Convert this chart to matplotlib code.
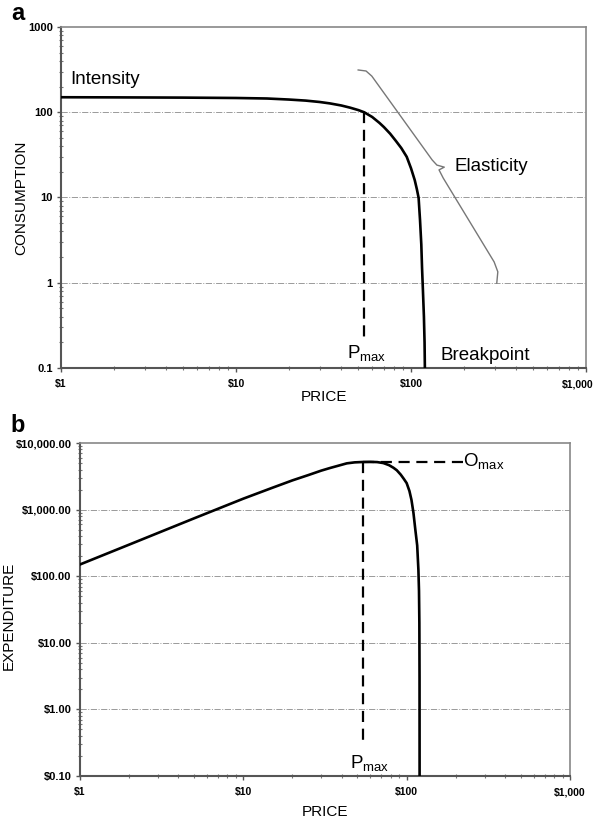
import numpy as np
import matplotlib.pyplot as plt
from matplotlib.ticker import FixedLocator, FixedFormatter, LogLocator, NullFormatter

plt.rcParams['font.family'] = ['Liberation Sans', 'DejaVu Sans']
plt.rcParams['mathtext.fontset'] = 'custom'
plt.rcParams['mathtext.rm'] = 'Liberation Sans'

# demand curve (panel a)
price_a = [1, 2, 5, 10, 15, 20, 25, 30, 34.4, 40, 45, 50, 54, 60, 66, 70, 76,
           82, 88, 94.5, 100, 105, 108, 110.5, 112.6, 114.5, 115.6, 117,
           118.5, 119.5, 120]
consumption = [150, 149.5, 148.5, 147, 145, 141, 137, 132, 127, 120, 113,
               106, 100, 88, 75, 67, 56, 46, 38, 30, 22, 16, 12.5, 9.9, 5.4,
               2.8, 1.5, 0.8, 0.4, 0.2, 0.1]

# expenditure curve (panel b)
price_b = [1, 2, 5, 10, 15, 20, 25, 30, 34, 38, 43, 48, 54, 60, 66, 72, 78,
           83, 87, 92, 96, 100, 104, 107, 110, 113, 116, 118, 119, 119.6,
           119.9, 120]
expenditure = [150, 298, 740, 1460, 2120, 2750, 3300, 3850, 4220, 4550, 4950,
               5120, 5190, 5210, 5170, 5000, 4650, 4250, 3900, 3350, 2900,
               2500, 1900, 1400, 900, 500, 290, 125, 60, 20, 3, 0.1]

pmax_price = 54
pmax_consumption = 100
pmax_low_a = 0.22
omax_value = 5190
omax_end_price = 221
pmax_low_b = 0.29

x_ticks = [1, 10, 100, 1000]
x_labels = ['$1', '$10', '$100', '$1,000']
ya_ticks = [0.1, 1, 10, 100, 1000]
ya_labels = ['0.1', '1', '10', '100', '1000']
yb_ticks = [0.1, 1, 10, 100, 1000, 10000]
yb_labels = ['$0.10', '$1.00', '$10.00', '$100.00', '$1,000.00', '$10,000.00']

fig = plt.figure(figsize=(6, 8.21), dpi=100)
ax_a = fig.add_axes([0.1017, 0.5518, 0.875, 0.4153])
ax_b = fig.add_axes([0.1333, 0.0548, 0.8167, 0.4056])


def style_axes(ax, yticks, ylabels, xlabels):
    ax.set_xscale('log')
    ax.set_yscale('log')
    ax.set_xlim(1, 1000)
    ax.set_ylim(yticks[0], yticks[-1])
    ax.xaxis.set_major_locator(FixedLocator(x_ticks))
    ax.xaxis.set_major_formatter(FixedFormatter(xlabels))
    ax.yaxis.set_major_locator(FixedLocator(yticks))
    ax.yaxis.set_major_formatter(FixedFormatter(ylabels))
    for axis in (ax.xaxis, ax.yaxis):
        axis.set_minor_locator(LogLocator(base=10, subs=np.arange(2, 10)))
        axis.set_minor_formatter(NullFormatter())
    ax.tick_params(which='major', direction='out', length=3, width=1,
                   color='#555555', labelsize=8, pad=3)
    ax.tick_params(axis='x', which='major', labelsize=7.5, pad=5)
    ax.tick_params(which='minor', direction='inout', length=3, width=0.8,
                   color='#777777')
    for lbl in ax.get_xticklabels() + ax.get_yticklabels():
        lbl.set_fontweight('bold')
    for side in ('left', 'bottom'):
        ax.spines[side].set_color('#555555')
        ax.spines[side].set_linewidth(1.5)
    for side in ('top', 'right'):
        ax.spines[side].set_color('#888888')
        ax.spines[side].set_linewidth(1.2)
    for yv in yticks[1:-1]:
        ax.axhline(yv, color='#9a9a9a', lw=0.7, ls='-.', zorder=1)


# panel a (last price label drawn by hand, nudged in from the edge)
style_axes(ax_a, ya_ticks, ya_labels, x_labels[:-1] + [''])
ax_a.annotate(x_labels[-1], xy=(x_ticks[-1], ya_ticks[0]), xytext=(-6, -8),
              textcoords='offset points', ha='center', va='top',
              fontsize=7.5, fontweight='bold', annotation_clip=False)
ax_a.plot(price_a, consumption, color='black', lw=1.9, zorder=3,
          solid_joinstyle='round')
ax_a.plot([pmax_price, pmax_price], [pmax_consumption, pmax_low_a],
          color='black', lw=1.6, ls=(0, (5, 3)), zorder=3)
ax_a.set_ylabel('CONSUMPTION', fontsize=11)
ax_a.yaxis.set_label_coords(-0.062, 0.5)
ax_a.set_xlabel('PRICE', fontsize=11, labelpad=1)

brace_x = [0.566, 0.581, 0.592, 0.707, 0.716, 0.730, 0.720, 0.728, 0.825,
           0.832, 0.830]
brace_y = [0.874, 0.871, 0.856, 0.610, 0.595, 0.589, 0.581, 0.557, 0.311,
           0.282, 0.249]
ax_a.plot(brace_x, brace_y, color='#777777', lw=1.0, transform=ax_a.transAxes,
          solid_joinstyle='round', zorder=2)

ax_a.text(0.017, 0.845, 'Intensity', transform=ax_a.transAxes, fontsize=13.5,
          va='center', ha='left')
ax_a.text(0.749, 0.592, 'Elasticity', transform=ax_a.transAxes, fontsize=13.5,
          va='center', ha='left')
ax_a.text(0.722, 0.036, 'Breakpoint', transform=ax_a.transAxes, fontsize=13.5,
          va='center', ha='left')
ax_a.text(0.545, 0.040, r'P$_{\mathrm{max}}$', transform=ax_a.transAxes,
          fontsize=13.5, va='center', ha='left')

# panel b
style_axes(ax_b, yb_ticks, yb_labels, x_labels)
ax_b.plot(price_b, expenditure, color='black', lw=1.9, zorder=3,
          solid_joinstyle='round')
ax_b.plot([pmax_price, pmax_price], [omax_value, pmax_low_b],
          color='black', lw=1.6, ls=(0, (5, 3)), zorder=3)
ax_b.plot([pmax_price, omax_end_price], [omax_value, omax_value],
          color='black', lw=1.6, ls=(0, (5, 3)), zorder=3)
ax_b.set_ylabel('EXPENDITURE', fontsize=11)
ax_b.yaxis.set_label_coords(-0.131, 0.48)
ax_b.set_xlabel('PRICE', fontsize=11, labelpad=6)

ax_b.text(0.782, 0.943, r'O$_{\mathrm{max}}$', transform=ax_b.transAxes,
          fontsize=13.5, va='center', ha='left')
ax_b.text(0.551, 0.036, r'P$_{\mathrm{max}}$', transform=ax_b.transAxes,
          fontsize=13.5, va='center', ha='left')

fig.text(0.018, 0.983, 'a', fontsize=17, fontweight='bold', va='center')
fig.text(0.018, 0.482, 'b', fontsize=17, fontweight='bold', va='center')

fig.savefig('out.png', dpi=100)
